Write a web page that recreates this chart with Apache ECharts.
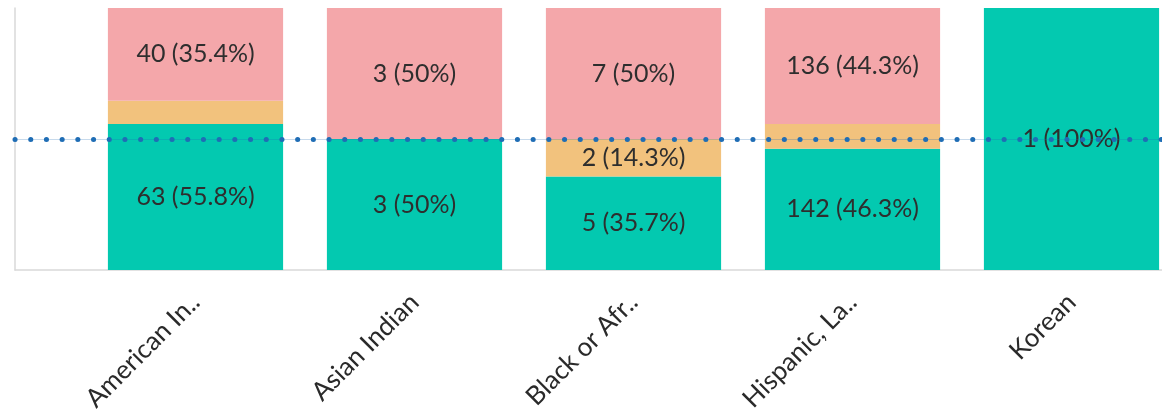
<!DOCTYPE html>
<html>
<head>
<meta charset="utf-8">
<script src="https://cdn.jsdelivr.net/npm/echarts@6/dist/echarts.min.js"></script>
<style>
  html, body { margin: 0; padding: 0; background: #fff; }
  #chart { width: 1162px; height: 420px; }
</style>
</head>
<body>
<div id="chart"></div>
<script>
var categories = ['American In..', 'Asian Indian', 'Black or Afr..', 'Hispanic, La..', 'Korean'];
var greenCounts = [63, 3, 5, 142, 1];
var orangeCounts = [10, 0, 2, 29, 0];
var pinkCounts = [40, 3, 7, 136, 0];
var refLine = 50;

var totals = categories.map(function (c, i) {
    return greenCounts[i] + orangeCounts[i] + pinkCounts[i];
});

function toPct(counts) {
    return counts.map(function (v, i) { return v / totals[i] * 100; });
}

// label: "count (pct%)", hidden on thin segments
function labelFor(counts) {
    return {
        show: true,
        position: 'inside',
        color: '#2e2e2e',
        fontSize: 25,
        fontFamily: 'Lato',
        formatter: function (p) {
            if (p.value < 10) return '';
            var pct = +p.value.toFixed(1);
            return counts[p.dataIndex] + ' (' + pct + '%)';
        }
    };
}

function segment(name, counts, color) {
    return {
        name: name,
        type: 'bar',
        stack: 'total',
        barCategoryGap: '20%',
        xAxisIndex: 0,
        yAxisIndex: 0,
        itemStyle: { color: color },
        label: labelFor(counts),
        data: toPct(counts)
    };
}

var myChart = echarts.init(document.getElementById('chart'));
var option = {
    animation: false,
    grid: [
        { left: 86, width: 1095, top: 8, bottom: 150, containLabel: false, outerBoundsMode: 'none' },
        { left: 15, right: 0, top: 8, bottom: 150, containLabel: false, outerBoundsMode: 'none' }
    ],
    xAxis: [
        {
            type: 'category', gridIndex: 0, data: categories,
            axisLine: { show: false }, axisTick: { show: false },
            axisLabel: { rotate: 45, margin: 28, color: '#2a2a2a', fontSize: 26, fontFamily: 'Lato' }
        },
        {
            type: 'value', gridIndex: 1, min: 0, max: 1,
            axisLine: { show: true, lineStyle: { color: '#d9d9d9', width: 1.5 } },
            axisTick: { show: false }, axisLabel: { show: false }, splitLine: { show: false }
        }
    ],
    yAxis: [
        {
            type: 'value', gridIndex: 0, min: 0, max: 100,
            axisLine: { show: false }, axisTick: { show: false },
            axisLabel: { show: false }, splitLine: { show: false }
        },
        {
            type: 'value', gridIndex: 1, min: 0, max: 100,
            axisLine: { show: true, lineStyle: { color: '#d9d9d9', width: 1.5 } },
            axisTick: { show: false }, axisLabel: { show: false }, splitLine: { show: false }
        }
    ],
    series: [
        segment('green', greenCounts, '#03c9b0'),
        segment('orange', orangeCounts, '#f2c27d'),
        segment('pink', pinkCounts, '#f4a7aa'),
        {
            type: 'line',
            xAxisIndex: 1,
            yAxisIndex: 1,
            data: [],
            z: 10,
            markLine: {
                silent: true,
                symbol: 'none',
                label: { show: false },
                data: [
                    { yAxis: refLine, lineStyle: { color: 'rgba(31,109,181,0.25)', width: 1, type: 'solid' } },
                    { yAxis: refLine, lineStyle: { color: '#1f6db5', width: 5, type: [0.1, 15.6], cap: 'round' } }
                ]
            }
        }
    ]
};
myChart.setOption(option);
</script>
</body>
</html>
